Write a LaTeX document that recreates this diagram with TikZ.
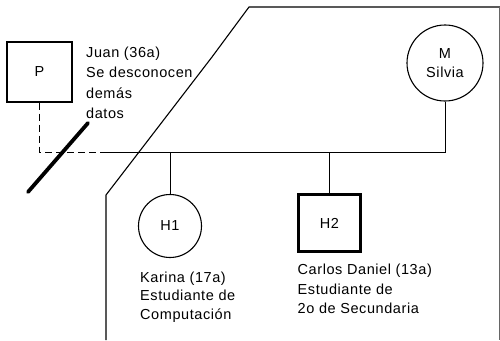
\documentclass[tikz,border=0pt]{standalone}
\usepackage{fontspec}
\setmainfont[LetterSpace=4]{Liberation Sans}
\begin{document}
\begin{tikzpicture}[x=1pt,y=-1pt,
  every node/.style={font=\fontsize{14.5}{19.5}\selectfont},
  male/.style={draw,line width=1.1pt,rectangle,minimum width=65pt,minimum height=60pt,inner sep=0pt},
  femalec/.style={draw,line width=1.1pt,circle,inner sep=0pt},
  index/.style={draw,line width=3.2pt,rectangle,minimum width=62pt,minimum height=57pt,inner sep=0pt},
  lbl/.style={anchor=base west,inner sep=0pt},
  link/.style={line width=0.9pt},
  dlink/.style={line width=0.9pt,dash pattern=on 7pt off 4pt},
  border/.style={line width=1.1pt},
  cut/.style={line width=3.8pt,line cap=round}]
\useasboundingbox (0,0) rectangle (500,340);
% household boundary
\draw[border] (500,7) -- (249,7) -- (212,57) -- (106,195) -- (106,340);
\draw[line width=0.5pt,black!60] (499,7) -- (499,340);
% persons
\node[male] (P) at (39.5,72) {P};
\node[femalec,minimum size=76pt,align=center] (M) at (445,63) {M\\Silvia};
\node[femalec,minimum size=63pt] (H1) at (170,226) {H1};
\node[index] (H2) at (329.5,223) {H2};
% labels
\node[lbl] (lPa) at (86,57.5) {Juan (36a)};
\node[lbl] (lPb) at (86,77.5) {Se desconocen};
\node[lbl] (lPc) at (86,98) {demás};
\node[lbl] (lPd) at (86,118) {datos};
\node[lbl] (lH1a) at (140,282) {Karina (17a)};
\node[lbl] (lH1b) at (140,300.5) {Estudiante de};
\node[lbl] (lH1c) at (140,319) {Computación};
\node[lbl] (lH2a) at (297.5,274.5) {Carlos Daniel (13a)};
\node[lbl] (lH2b) at (297.5,294) {Estudiante de};
\node[lbl] (lH2c) at (297.5,313) {2o de Secundaria};
% connectors
\coordinate (cP) at (P.south |- 0,152);
\coordinate (cD) at (105,152);
\coordinate (cM) at (M.south |- 0,152);
\coordinate (c1) at (H1.north |- 0,152);
\coordinate (c2) at (H2.north |- 0,152);
\draw[dlink] (P.south) -- (cP) -- (cD);
\draw[link] (cD) -- (cM) -- (M.south);
\draw[link] (c1) -- (H1.north);
\draw[link] (c2) -- (H2.north);
% separation mark
\coordinate (s1) at (88,123);
\coordinate (s2) at (28,192);
\draw[cut] (s1) -- (s2);
\end{tikzpicture}
\end{document}
